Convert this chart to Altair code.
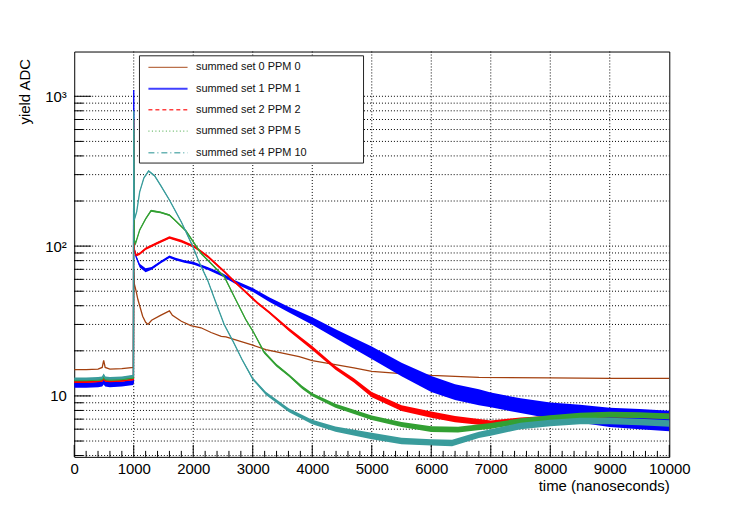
import altair as alt
import pandas as pd

# ---------------- data ----------------
series_names = ["summed set 0 PPM 0", "summed set 1 PPM 1", "summed set 2 PPM 2",
                "summed set 3 PPM 5", "summed set 4 PPM 10"]
series_colors = ["#a3400f", "#0000ff", "#ff0000", "#33a033", "#3a9c9c"]

# set 0 (brown)
b_t = [0, 200, 400, 470, 495, 520, 600, 800, 995, 1000, 1010, 1040, 1070, 1150, 1200, 1240, 1300, 1450, 1600,
       1650, 1800, 1960, 2130, 2300, 2470, 2550, 2780, 3000, 3220, 3500, 3780, 4000, 4340, 4700, 5000, 5500,
       6000, 6800, 8000, 9000, 10000]
b_v = [15.0, 15.0, 15.1, 15.5, 17.3, 15.5, 15.1, 15.2, 15.5, 70, 56, 50, 44, 34, 31, 30, 32, 34.5, 37,
       34.5, 31.5, 29.5, 28.5, 26.5, 25.0, 24.8, 23.2, 21.8, 20.4, 19.3, 18.3, 17.2, 16.3, 15.4, 14.6, 14.1,
       13.7, 13.3, 13.2, 13.1, 13.1]
b_s = [1.0] * len(b_t)

# set 1 (blue)
u_t = [0, 200, 400, 470, 495, 520, 600, 800, 995, 1000, 1010, 1040, 1100, 1200, 1300, 1450, 1600, 1700, 1850,
       2000, 2240, 2500, 2690, 3000, 3275, 3610, 4000, 4400, 5000, 5500, 6000, 6400, 6800, 7000, 7500, 8000,
       8500, 9000, 9500, 10000]
u_v = [11.8, 11.8, 11.9, 12.0, 12.4, 12.0, 11.9, 12.0, 12.3, 1100, 95, 85, 74, 69, 71, 78, 85, 82, 79,
       77, 71, 64, 58, 51, 44, 37.6, 31.6, 25.9, 19.4, 15.0, 12.0, 10.6, 9.8, 9.4, 8.6, 8.0,
       7.6, 7.2, 7.0, 6.8]
u_s = [1.04, 1.04, 1.04, 1.04, 1.04, 1.04, 1.04, 1.04, 1.04, 1.0,
       1.02, 1.02, 1.03, 1.03, 1.02, 1.02, 1.02, 1.02, 1.02, 1.02, 1.02,
       1.025, 1.025, 1.03, 1.035, 1.045, 1.06, 1.07, 1.10, 1.11, 1.13, 1.13, 1.13, 1.12, 1.12, 1.13,
       1.15, 1.16, 1.17, 1.17]

# set 2 (red)
r_t = [0, 200, 400, 470, 495, 520, 600, 800, 995, 1000, 1010, 1040, 1100, 1200, 1400, 1600,
       1800, 2020, 2250, 2520, 2690, 2800, 3080, 3275, 3610, 4000, 4390, 4700, 5000, 5500, 6000, 6400,
       6800, 7000, 7500, 8000, 8500, 9000, 9500, 10000]
r_v = [12.4, 12.4, 12.5, 12.6, 13.0, 12.6, 12.5, 12.6, 12.9, 700, 95, 87, 89, 96, 105, 114,
       108, 99, 85, 67.6, 58, 53, 41.7, 36.2, 27.7, 20.9, 15.4, 12.7, 10.2, 8.3, 7.5, 7.0,
       6.7, 6.6, 6.9, 7.1, 7.3, 7.5, 7.4, 7.35]
r_s = [1.015] * 9 + [1.0] + [1.02] * 13 + [1.02, 1.025, 1.03, 1.03, 1.035, 1.04, 1.045, 1.05, 1.05,
                                           1.045, 1.04, 1.04, 1.04, 1.04, 1.04, 1.04, 1.04]

# set 3 (green)
g_t = [0, 200, 400, 470, 495, 520, 600, 800, 995, 1000, 1010, 1030, 1100, 1200, 1290, 1450, 1600, 1700, 1880,
       2130, 2380, 2520, 2700, 2880, 3020, 3190, 3400, 3610, 3830, 4000, 4390, 5000, 5500, 6000, 6450,
       7000, 7500, 8000, 8500, 9000, 9500, 10000]
g_v = [12.7, 12.7, 12.8, 12.9, 13.3, 12.9, 12.8, 12.9, 13.2, 600, 110, 104, 128, 152, 172, 168, 161, 148, 126,
       89.5, 71, 62.7, 45, 32.5, 26.3, 19.6, 16.0, 13.7, 11.4, 10.2, 8.6, 7.16, 6.45, 6.0, 5.95,
       6.3, 6.8, 7.1, 7.4, 7.5, 7.45, 7.3]
g_s = [1.015] * 9 + [1.0] + [1.015] * 15 + [1.02, 1.02, 1.02, 1.025, 1.025, 1.03, 1.035, 1.04, 1.045,
                                            1.045, 1.045, 1.045, 1.045, 1.045, 1.045, 1.045, 1.045]

# set 4 (teal)
c_t = [0, 200, 400, 470, 495, 520, 600, 800, 995, 1000, 1010, 1050, 1100, 1170, 1250, 1350, 1450, 1600, 1800,
       1990, 2100, 2240, 2380, 2520, 2660, 2820, 3000, 3220, 3610, 4000, 4390, 5000, 5500, 6000, 6350,
       6800, 7000, 7500, 8000, 8500, 9000, 9500, 10000]
c_v = [13.0, 13.0, 13.1, 13.2, 13.8, 13.2, 13.1, 13.2, 13.6, 800, 150, 170, 230, 285, 317, 295, 255, 203, 145,
       100, 78, 59.5, 42, 30, 23.5, 17.5, 13.0, 10.4, 8.0, 6.7, 6.0, 5.4, 5.0, 4.9, 4.85,
       5.5, 5.7, 6.3, 6.6, 6.8, 6.8, 6.7, 6.55]
c_s = [1.02] * 9 + [1.0] + [1.012] * 16 + [1.02, 1.025, 1.03, 1.035, 1.04] + [1.05] * 12

# axis ticks / grid values
x_major = [0, 1000, 2000, 3000, 4000, 5000, 6000, 7000, 8000, 9000, 10000]
x_minor = [t for t in range(0, 10001, 200) if t % 1000 != 0]
y_major = [10, 100, 1000]
y_minor = [4, 5, 6, 7, 8, 9, 20, 30, 40, 50, 60, 70, 80, 90, 200, 300, 400, 500, 600, 700, 800, 900]
y_grid = sorted(y_minor + y_major)

# ---------------- chart ----------------
W, H = 597.5, 407
FONT = "Liberation Sans"
xs = alt.Scale(domain=[0, 10000], nice=False, zero=False)
ys = alt.Scale(type="log", domain=[3.92, 1990], nice=False)

x_axis = alt.Axis(values=x_major, format="d", title="time (nanoseconds)", tickSize=0, domain=False,
                  grid=False, labelFontSize=15, labelPadding=5, labelFlush=False, labelOverlap=False,
                  titleFontSize=15, titleFontWeight="normal", titleAlign="right", titleAnchor="end",
                  titleX=W, titleY=33.5, titleBaseline="alphabetic")
y_axis = alt.Axis(values=y_major,
                  labelExpr="datum.value == 1000 ? '10³' : (datum.value == 100 ? '10²' : '10')",
                  title="yield ADC", tickSize=0, domain=False, grid=False, labelFontSize=15,
                  labelPadding=8, labelFlush=False, labelOverlap=False, titleFontSize=15,
                  titleFontWeight="normal", titleAngle=270, titleAlign="right", titleX=-49.5, titleY=7,
                  titleBaseline="middle")

X = lambda f: alt.X(f, scale=xs, axis=x_axis)
Y = lambda f: alt.Y(f, scale=ys, axis=y_axis, stack=None)

layers = []

# grid
layers.append(alt.Chart(pd.DataFrame({"t": x_major[1:-1]})).mark_rule(
    color="#000", strokeWidth=1, strokeDash=[1, 2]).encode(
    x=X("t:Q"), y=alt.value(0), y2=alt.value(H)))
layers.append(alt.Chart(pd.DataFrame({"v": y_grid})).mark_rule(
    color="#000", strokeWidth=1, strokeDash=[1, 2]).encode(
    y=Y("v:Q"), x=alt.value(0), x2=alt.value(W)))

all_series = [(b_t, b_v, b_s), (u_t, u_v, u_s), (r_t, r_v, r_s), (g_t, g_v, g_s), (c_t, c_v, c_s)]
for (ts, vs, ss), col in zip(all_series, series_colors):
    df = pd.DataFrame({"t": ts, "v": vs, "s": ss})
    df["lo"] = df["v"] / df["s"]
    df["hi"] = df["v"] * df["s"]
    if max(ss) > 1.0:
        layers.append(alt.Chart(df).mark_area(color=col, opacity=1, clip=True).encode(
            x=X("t:Q"), y=Y("lo:Q"), y2="hi:Q"))
    layers.append(alt.Chart(df).mark_line(color=col, strokeWidth=1.3, clip=True).encode(
        x=X("t:Q"), y=Y("v:Q")))

# inner ticks (ROOT style)
layers.append(alt.Chart(pd.DataFrame({"t": x_major})).mark_rule(color="black", strokeWidth=1).encode(
    x=X("t:Q"), y=alt.value(H), y2=alt.value(H - 12)))
layers.append(alt.Chart(pd.DataFrame({"t": x_minor})).mark_rule(color="black", strokeWidth=1).encode(
    x=X("t:Q"), y=alt.value(H), y2=alt.value(H - 6)))
layers.append(alt.Chart(pd.DataFrame({"v": y_major})).mark_rule(color="black", strokeWidth=1).encode(
    y=Y("v:Q"), x=alt.value(0), x2=alt.value(17)))
layers.append(alt.Chart(pd.DataFrame({"v": y_minor})).mark_rule(color="black", strokeWidth=1).encode(
    y=Y("v:Q"), x=alt.value(0), x2=alt.value(9)))

# legend box
one = pd.DataFrame({"a": [0]})
layers.append(alt.Chart(one).mark_rect(fill="white", stroke="#222", strokeWidth=1).encode(
    x=alt.value(65.5), x2=alt.value(290.5), y=alt.value(4.3), y2=alt.value(112)))
leg_y = [16, 37.3, 58.5, 80, 101.6]
leg_w = [1.2, 2.0, 1.5, 1.3, 1.5]
leg_dash = [[1, 0], [1, 0], [4, 3], [1, 2.5], [6, 3, 1, 3]]
for name, col, ly, lw, dash in zip(series_names, series_colors, leg_y, leg_w, leg_dash):
    layers.append(alt.Chart(one).mark_rule(color=col, strokeWidth=lw, strokeDash=dash, opacity=0.75).encode(
        x=alt.value(74.5), x2=alt.value(113.8), y=alt.value(ly)))
    layers.append(alt.Chart(one).mark_text(align="left", baseline="middle", fontSize=11, font=FONT,
                                           color="#111").encode(
        x=alt.value(122.2), y=alt.value(ly), text=alt.value(name)))

chart = alt.layer(*layers).properties(
    width=W, height=H,
    padding={"left": 66.5, "top": 42.7, "right": 70, "bottom": 40},
    autosize=alt.AutoSizeParams(type="none"),
).configure_view(stroke="black", strokeWidth=1).configure_axis(
    labelFont=FONT, titleFont=FONT, labelColor="black", titleColor="black")

chart.save("out.html", embed_options={"renderer": "svg", "actions": False})
